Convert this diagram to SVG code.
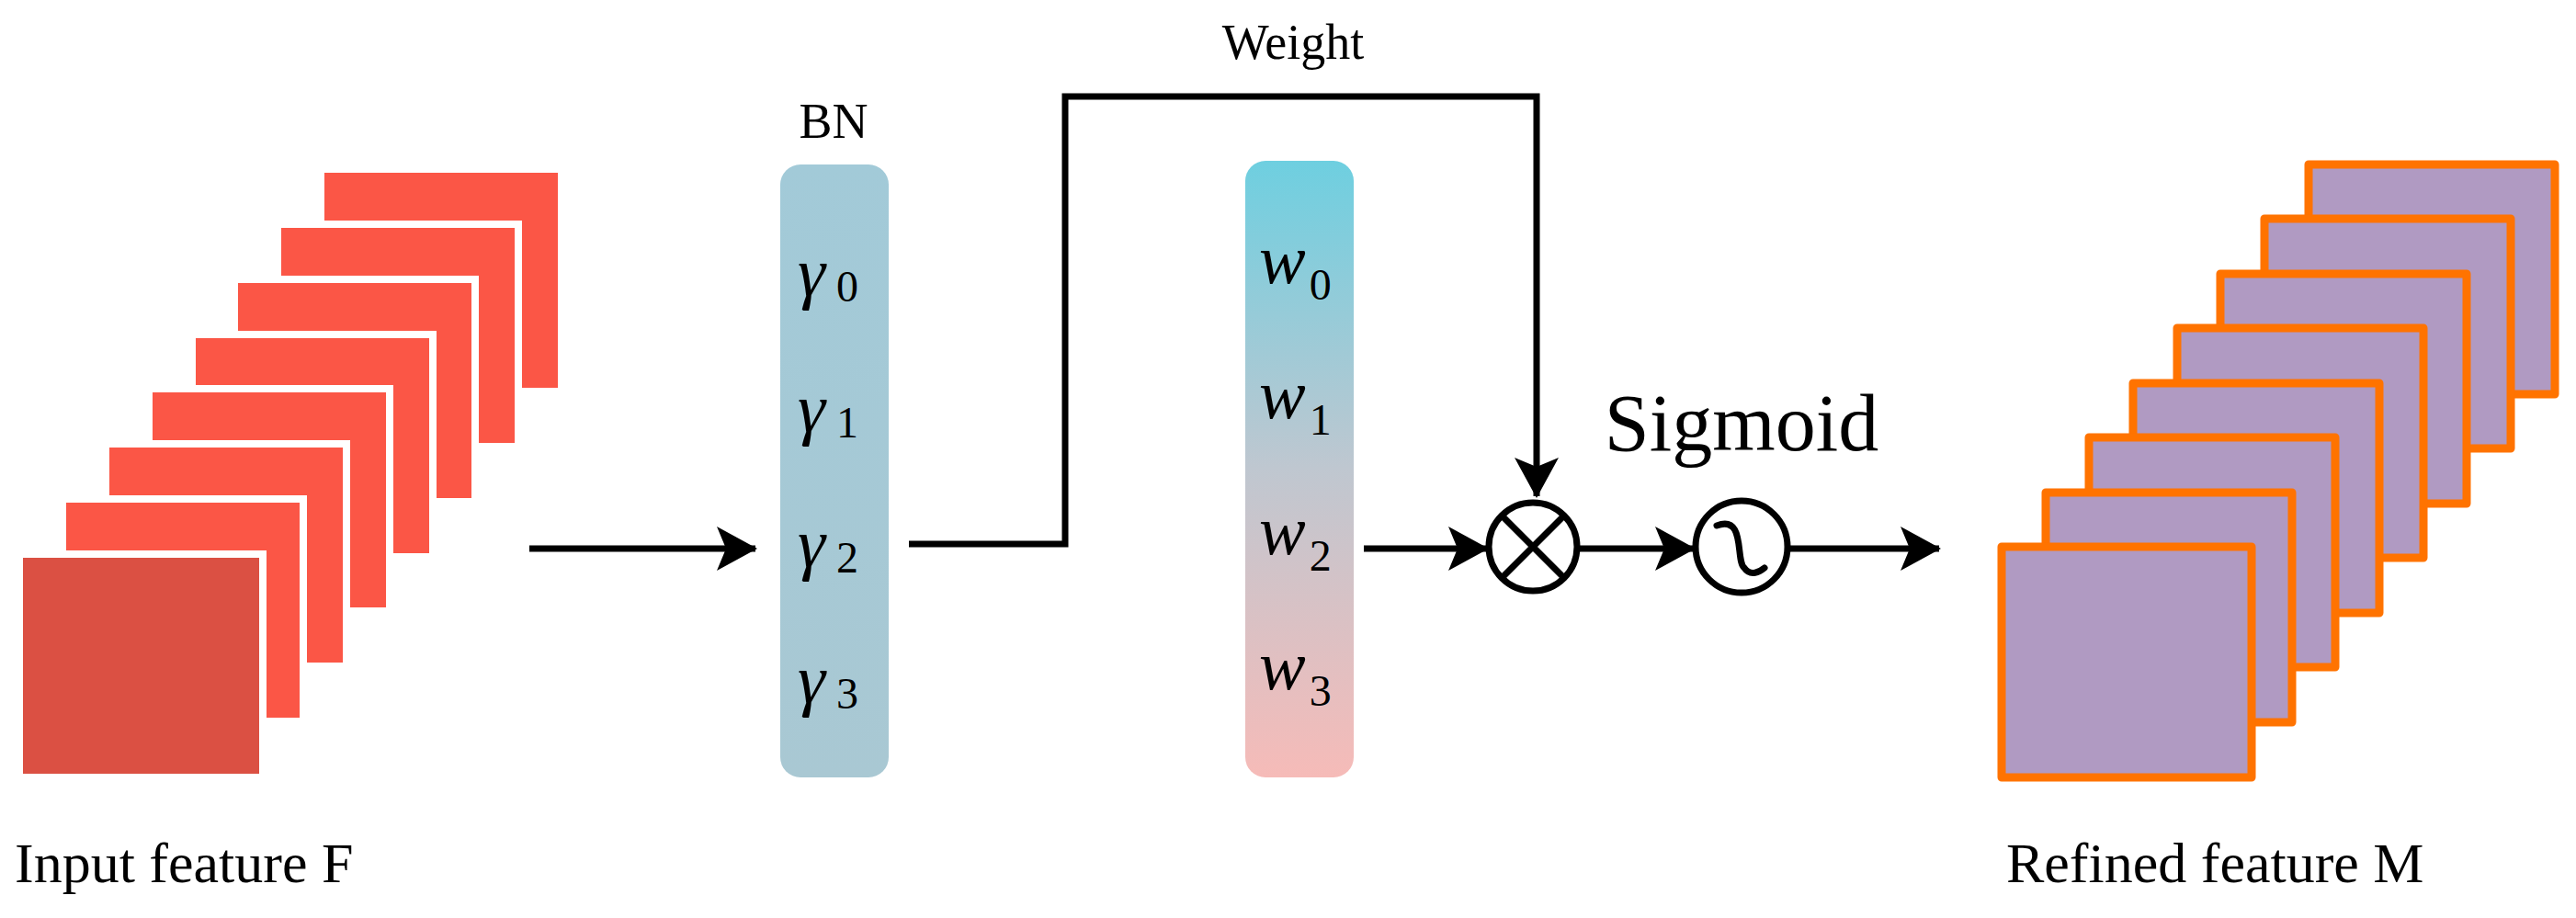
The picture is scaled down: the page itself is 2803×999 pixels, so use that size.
<svg xmlns="http://www.w3.org/2000/svg" width="2803" height="999" viewBox="0 0 2803 999">
<defs>
<style>
.red{fill:#FB5646;stroke:#fff;stroke-width:8}
.pur{fill:#B09AC2;stroke:#FF7300;stroke-width:9;stroke-linejoin:round}
.ln{fill:none;stroke:#000;stroke-width:7}
.t{font-family:"Liberation Serif","Times New Roman","DejaVu Serif",serif;fill:#000}
.sym{font-family:"Liberation Serif","Times New Roman","DejaVu Serif",serif;font-style:italic;font-size:76px}
.sub{font-style:normal;font-size:48px}
</style>
<marker id="ah" markerUnits="userSpaceOnUse" markerWidth="44" markerHeight="48" refX="42" refY="24" orient="auto"><path d="M0,0 L44,24 L0,48 L10,24 Z" fill="#000"/></marker>
<linearGradient id="bn" x1="0" y1="0" x2="0" y2="1"><stop offset="0" stop-color="#A2CAD8"/><stop offset="1" stop-color="#A9C8D3"/></linearGradient>
<linearGradient id="wg" x1="0" y1="0" x2="0" y2="1"><stop offset="0" stop-color="#6ECFE0"/><stop offset="0.5" stop-color="#BFC7D0"/><stop offset="1" stop-color="#F6BBB8"/></linearGradient>
</defs>
<rect width="2803" height="999" fill="#fff"/>
<g id="input-stack">
<rect class="red" x="349" y="184" width="262" height="242"/>
<rect class="red" x="302" y="244" width="262" height="242"/>
<rect class="red" x="255" y="304" width="262" height="242"/>
<rect class="red" x="209" y="364" width="262" height="242"/>
<rect class="red" x="162" y="423" width="262" height="242"/>
<rect class="red" x="115" y="483" width="262" height="242"/>
<rect class="red" x="68" y="543" width="262" height="242"/>
<rect x="21" y="603" width="265" height="243" fill="#DB5043" stroke="#fff" stroke-width="8"/>
<text class="t" x="16" y="960" font-size="62">Input feature F</text>
</g>
<g id="bn">
<rect x="849" y="179" width="118" height="667" rx="22" fill="url(#bn)"/>
<text class="t" x="907" y="150" font-size="54" text-anchor="middle">BN</text>
<text class="sym" x="868" y="322">γ<tspan class="sub" dx="12" dy="6">0</tspan></text>
<text class="sym" x="868" y="470">γ<tspan class="sub" dx="12" dy="6">1</tspan></text>
<text class="sym" x="868" y="617">γ<tspan class="sub" dx="12" dy="6">2</tspan></text>
<text class="sym" x="868" y="765">γ<tspan class="sub" dx="12" dy="6">3</tspan></text>
</g>
<g id="weights">
<rect x="1355" y="175" width="118" height="671" rx="22" fill="url(#wg)"/>
<text class="sym" x="1370" y="308">w<tspan class="sub" dx="4" dy="18">0</tspan></text>
<text class="sym" x="1370" y="455">w<tspan class="sub" dx="4" dy="18">1</tspan></text>
<text class="sym" x="1370" y="603">w<tspan class="sub" dx="4" dy="18">2</tspan></text>
<text class="sym" x="1370" y="750">w<tspan class="sub" dx="4" dy="18">3</tspan></text>
</g>
<g id="multiply">
<circle cx="1668" cy="595" r="48" fill="#fff" stroke="#000" stroke-width="7"/>
<path d="M1634,561 L1702,629 M1702,561 L1634,629" stroke="#000" stroke-width="7"/>
</g>
<g id="sigmoid">
<circle cx="1895" cy="595" r="50" fill="#fff" stroke="#000" stroke-width="7"/>
<path d="M1868,572 C1900,560 1888,610 1898,618 C1905,628 1915,622 1920,618" fill="none" stroke="#000" stroke-width="7" stroke-linecap="round"/>
<text class="t" x="1895" y="490" font-size="88" text-anchor="middle">Sigmoid</text>
</g>
<g id="output-stack">
<rect class="pur" x="2512" y="179" width="268" height="250"/>
<rect class="pur" x="2464" y="238" width="268" height="250"/>
<rect class="pur" x="2416" y="298" width="268" height="250"/>
<rect class="pur" x="2369" y="357" width="268" height="250"/>
<rect class="pur" x="2321" y="417" width="268" height="250"/>
<rect class="pur" x="2273" y="476" width="268" height="250"/>
<rect class="pur" x="2226" y="536" width="268" height="250"/>
<rect class="pur" x="2178" y="595" width="272" height="251"/>
<text class="t" x="2183" y="960" font-size="62">Refined feature M</text>
</g>
<g id="connectors">
<line class="ln" x1="576" y1="597" x2="822" y2="597" marker-end="url(#ah)"/>
<path class="ln" d="M989,592 H1159 V105 H1672 V540" marker-end="url(#ah)"/>
<text class="t" x="1407" y="64" font-size="54" text-anchor="middle">Weight</text>
<line class="ln" x1="1484" y1="597" x2="1618" y2="597" marker-end="url(#ah)"/>
<line class="ln" x1="1716" y1="597" x2="1843" y2="597" marker-end="url(#ah)"/>
<line class="ln" x1="1945" y1="597" x2="2110" y2="597" marker-end="url(#ah)"/>
</g>
</svg>
